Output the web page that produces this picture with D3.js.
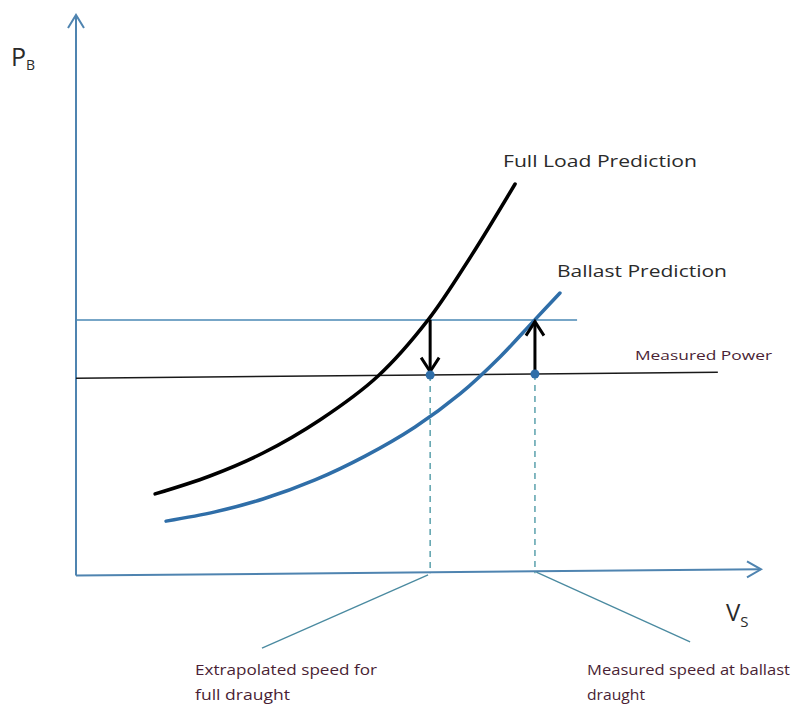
<!DOCTYPE html>
<html><head><meta charset="utf-8">
<script src="https://cdn.jsdelivr.net/npm/d3@7"></script>
<style>html,body{margin:0;padding:0;background:#fff}svg{display:block}</style>
</head><body>
<svg id="c" width="802" height="706"></svg>
<script>
// ---- data (speed in knots, power in MW; schematic) ----
const fullLoadSpeed = [2.31, 3.91, 5.46, 7.12, 8.82, 10.28, 11.50, 12.82];
const fullLoadPower = [2.91, 3.55, 4.37, 5.55, 7.12, 9.12, 11.33, 13.97];
const ballastSpeed  = [2.63, 4.06, 5.46, 6.98, 8.44, 9.90, 11.21, 12.38, 13.34, 14.13];
const ballastPower  = [1.94, 2.27, 2.73, 3.41, 4.26, 5.30, 6.48, 7.80, 9.05, 10.08];
const predictedPowerLine = {speed: [0, 14.63], power: [9.12, 9.12]};
const measuredPowerLine  = {speed: [0, 18.74], power: [7.04, 7.25]};
const extrapolatedSpeed = 10.34;
const measuredSpeed = 13.40;
const axisSpeedMax = 20, axisPowerMax = 20;
const labels = {
  full: "Full Load Prediction", ballast: "Ballast Prediction", measured: "Measured Power",
  extrap: ["Extrapolated speed for", "full draught"],
  meas: ["Measured speed at ballast", "draught"]
};

// ---- scales ----
const x = d3.scaleLinear().domain([0, axisSpeedMax]).range([76, 761]);
const y = d3.scaleLinear().domain([0, axisPowerMax]).range([575.5, 15]);
const svg = d3.select("#c");
const line = d3.line().x(d => x(d[0])).y(d => y(d[1]));
const curve = d3.line().x(d => x(d[0])).y(d => y(d[1])).curve(d3.curveCatmullRom.alpha(0.5));
const measAt = s => measuredPowerLine.power[0] + (measuredPowerLine.power[1]-measuredPowerLine.power[0]) * (s - measuredPowerLine.speed[0]) / (measuredPowerLine.speed[1]-measuredPowerLine.speed[0]);

const axisCol = "#4f84b0";
// axes
svg.append("path").attr("d", line([[0,0],[0,axisPowerMax]])).attr("stroke", axisCol).attr("stroke-width", 2).attr("fill","none");
svg.append("path").attr("d", line([[0,0],[axisSpeedMax,0.22]])).attr("stroke", axisCol).attr("stroke-width", 2).attr("fill","none");
// arrow heads (open chevrons)
{
  const tx = x(0), ty = y(axisPowerMax);
  svg.append("path").attr("d", `M${tx-8},${ty+13}L${tx},${ty}L${tx+8},${ty+13}`).attr("stroke", axisCol).attr("stroke-width", 2).attr("fill","none");
  const rx = x(axisSpeedMax), ry = y(0.22);
  svg.append("path").attr("d", `M${rx-14},${ry-8}L${rx},${ry}L${rx-14},${ry+8}`).attr("stroke", axisCol).attr("stroke-width", 2).attr("fill","none");
}

// horizontal lines
svg.append("path").attr("d", line(d3.zip(predictedPowerLine.speed, predictedPowerLine.power)))
  .attr("stroke", "#4a88b5").attr("stroke-width", 1.5).attr("fill","none");
svg.append("path").attr("d", line(d3.zip(measuredPowerLine.speed, measuredPowerLine.power)))
  .attr("stroke", "#1a1a1a").attr("stroke-width", 1.5).attr("fill","none");

// curves
svg.append("path").attr("d", curve(d3.zip(fullLoadSpeed, fullLoadPower)))
  .attr("stroke", "#000").attr("stroke-width", 3.5).attr("fill","none").attr("stroke-linecap","round");
svg.append("path").attr("d", curve(d3.zip(ballastSpeed, ballastPower)))
  .attr("stroke", "#2f6ea8").attr("stroke-width", 3.5).attr("fill","none").attr("stroke-linecap","round");

// dashed drop lines
[extrapolatedSpeed, measuredSpeed].forEach(s => {
  svg.append("path").attr("d", line([[s, measAt(s)],[s, 0.08]]))
    .attr("stroke", "#4f9aa6").attr("stroke-width", 1.4).attr("stroke-dasharray", "6,5").attr("fill","none");
});

// arrows
function arrow(s, p0, p1) {
  const x0 = x(s), y0 = y(p0), y1 = y(p1);
  const dir = y1 > y0 ? 1 : -1;
  svg.append("path").attr("d", `M${x0},${y0}L${x0},${y1}`).attr("stroke","#000").attr("stroke-width",3).attr("fill","none");
  svg.append("path").attr("d", `M${x0-9},${y1-dir*14}L${x0},${y1}L${x0+9},${y1-dir*14}`)
    .attr("stroke","#000").attr("stroke-width",3).attr("fill","none").attr("stroke-linejoin","miter");
}
arrow(extrapolatedSpeed, predictedPowerLine.power[0], measAt(extrapolatedSpeed) + 0.12);
arrow(measuredSpeed, measAt(measuredSpeed), predictedPowerLine.power[0] - 0.06);

// dots
[extrapolatedSpeed, measuredSpeed].forEach(s => {
  svg.append("circle").attr("cx", x(s)).attr("cy", y(measAt(s))).attr("r", 4.5).attr("fill", "#2f6ea8");
});

// leader lines
svg.append("path").attr("d", line([[extrapolatedSpeed - 0.06, 0.02],[5.43, -2.59]])).attr("stroke","#4a8aa0").attr("stroke-width",1.3).attr("fill","none");
svg.append("path").attr("d", line([[measuredSpeed + 0.04, 0.12],[17.93, -2.37]])).attr("stroke","#4a8aa0").attr("stroke-width",1.3).attr("fill","none");

// text
const font = "'Open Sans', sans-serif";
function txt(t, px, py, size, col, len) {
  const e = svg.append("text").attr("x", px).attr("y", py).attr("font-family", font).attr("font-size", size).attr("fill", col).text(t);
  if (len) e.attr("textLength", len).attr("lengthAdjust", "spacingAndGlyphs");
  return e;
}
txt(labels.full, 503, 167, 17, "#2a2a2a", 194);
txt(labels.ballast, 557, 277, 17, "#2a2a2a", 170);
txt(labels.measured, 635, 360, 13, "#4a1f35", 137);
txt(labels.extrap[0], 195, 675, 14.5, "#4a1f35", 182);
txt(labels.extrap[1], 195, 700, 14.5, "#4a1f35", 95);
txt(labels.meas[0], 587, 675, 14.5, "#4a1f35", 203);
txt(labels.meas[1], 587, 700, 14.5, "#4a1f35", 58);
// axis titles
{
  const t = svg.append("text").attr("x", 11).attr("y", 66).attr("font-family", font).attr("fill", "#2a2a2a");
  t.append("tspan").attr("font-size", 25).text("P");
  t.append("tspan").attr("font-size", 14).attr("dy", 4).text("B");
  const v = svg.append("text").attr("x", 726).attr("y", 621).attr("font-family", font).attr("fill", "#2a2a2a");
  v.append("tspan").attr("font-size", 24).text("V");
  v.append("tspan").attr("font-size", 15).attr("dy", 6).text("S");
}
</script>
</body></html>
